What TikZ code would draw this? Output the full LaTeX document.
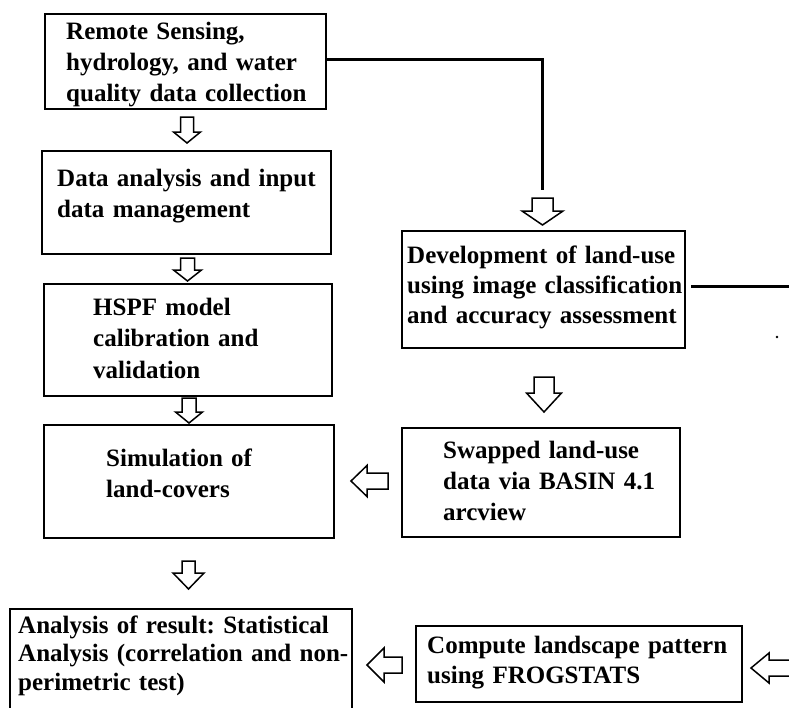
\documentclass[tikz,border=0pt]{standalone}
\usepackage{fontspec}
\setmainfont{Liberation Serif}
\frenchspacing
\newcommand\darr[6]{%
  \draw[hollow] ({#1-#5},#2) -- ({#1+#5},#2) -- ({#1+#5},#3) -- ({#1+#6},#3) -- (#1,#4) -- ({#1-#6},#3) -- ({#1-#5},#3) -- cycle;}
\newcommand\larr[6]{%
  \draw[hollow] (#2,{#1-#5}) -- (#3,{#1-#5}) -- (#3,{#1-#6}) -- (#4,#1) -- (#3,{#1+#6}) -- (#3,{#1+#5}) -- (#2,{#1+#5}) -- cycle;}
\begin{document}
\begin{tikzpicture}[x=1pt,y=-1pt,
  box/.style={draw=black, line width=2pt, inner sep=0pt, rectangle},
  txt/.style={anchor=base west, inner sep=0pt, text width=340pt, align=left,
    font=\fontsize{25}{31}\selectfont\bfseries},
  hollow/.style={draw=black, fill=white, line width=1.5pt, line join=miter},
  conn/.style={draw=black, line width=3pt}]
\useasboundingbox (0,0) rectangle (789,707);
\clip (0,0) rectangle (789,707);
\fill[white] (0,0) rectangle (789,707);
% boxes
\node[box, minimum width=281pt, minimum height=95pt] (b1) at (185.5,61.5) {};
\node[box, minimum width=289pt, minimum height=103pt] (b2) at (186.5,202.5) {};
\node[box, minimum width=288pt, minimum height=112pt] (b3) at (188,340) {};
\node[box, minimum width=290pt, minimum height=113pt] (b4) at (189,481.5) {};
\node[box, minimum width=342pt, minimum height=121pt] (b5) at (181,669.5) {};
\node[box, minimum width=326pt, minimum height=76pt] (b6) at (579,664) {};
\node[box, minimum width=283pt, minimum height=117pt] (b7) at (543.5,289.5) {};
\node[box, minimum width=278pt, minimum height=109pt] (b8) at (541,482.5) {};
% texts
\node[txt] (t1) at (66,39) {Remote Sensing,\\hydrology, and water\\quality data collection};
\node[txt] (t2) at (57,186) {Data analysis and input\\data management};
\node[txt, font=\fontsize{25}{31.5}\selectfont\bfseries] (t3) at (93,315) {HSPF model\\calibration and\\validation};
\node[txt] (t4) at (106,466) {Simulation of\\land-covers};
\node[txt, font=\fontsize{25}{28.5}\selectfont\bfseries] (t5) at (18,633) {Analysis of result: Statistical\\Analysis (correlation and non-\\perimetric test)};
\node[txt, font=\fontsize{25}{30}\selectfont\bfseries] (t6) at (427,653) {Compute landscape pattern\\using FROGSTATS};
\node[txt, font=\fontsize{25}{30}\selectfont\bfseries] (t7) at (407,263) {Development of land-use\\using image classification\\and accuracy assessment};
\node[txt] (t8) at (443,458) {Swapped land-use\\data via BASIN 4.1\\arcview};
% connector lines
\coordinate (c1) at (542.5,190);
\draw[conn] (b1.east |- 0,59) -| (c1);
\coordinate (c2) at (795,286);
\draw[conn] ([xshift=5pt]b7.east |- c2) -- (c2);
\fill (777,337) circle (1.3pt);
% hollow arrows
\darr{187}{117}{132}{143}{6.5}{13.5}
\darr{187.5}{258}{270}{281}{7}{14}
\darr{189}{398}{412}{423}{7}{13.5}
\darr{188.5}{561}{573}{589}{6.5}{15.5}
\darr{542.5}{198}{211}{225}{10.5}{20.5}
\darr{544}{377}{393}{412}{10}{17.5}
\larr{481}{388}{367}{351}{8}{15.5}
\larr{665}{402}{384}{367}{8}{17}
\larr{668}{800}{769}{751}{8}{15}
\end{tikzpicture}
\end{document}
